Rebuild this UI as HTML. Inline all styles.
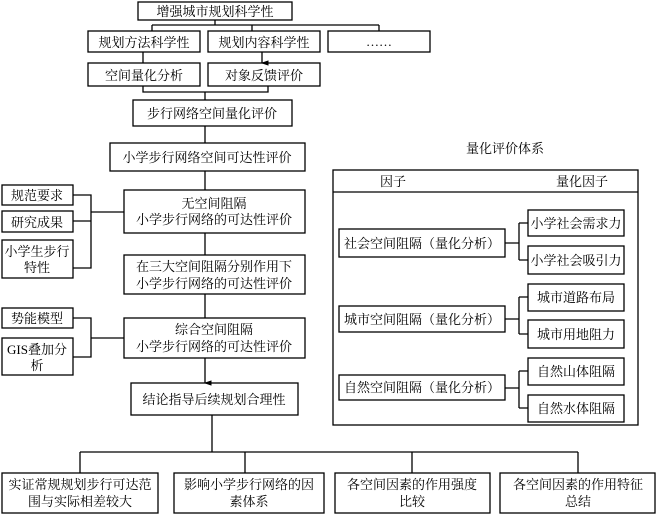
<!DOCTYPE html>
<html><head><meta charset="utf-8"><style>
html,body{margin:0;padding:0;background:#fff}
text{font-family:"Liberation Serif","Noto Serif CJK SC","Noto Sans CJK SC",serif;font-size:13px;fill:#000}
</style></head><body>
<svg width="657" height="515" viewBox="0 0 657 515" xmlns="http://www.w3.org/2000/svg">
<defs><marker id="a" markerWidth="6" markerHeight="6" refX="3" refY="5" orient="auto"><path d="M1,0 L5,0 L3,6 Z" fill="#000"/></marker></defs>
<g fill="none" stroke="#000" stroke-width="1.3">
<rect x="138" y="2" width="154" height="18"/>
<rect x="88" y="31" width="112" height="21"/>
<rect x="208" y="31" width="112" height="21"/>
<rect x="328" y="31" width="102" height="21"/>
<rect x="88" y="63" width="112" height="23"/>
<rect x="208" y="63" width="112" height="23"/>
<rect x="133" y="100" width="159" height="26"/>
<rect x="110" y="143" width="195" height="28"/>
<rect x="124" y="190" width="181" height="43"/>
<rect x="124" y="255" width="181" height="39"/>
<rect x="124" y="318" width="181" height="40"/>
<rect x="131" y="383" width="167" height="32"/>
<rect x="2" y="473" width="156" height="40"/>
<rect x="174" y="473" width="150" height="40"/>
<rect x="335" y="473" width="155" height="40"/>
<rect x="500" y="473" width="155" height="40"/>
<rect x="2" y="185" width="71" height="20"/>
<rect x="2" y="211" width="71" height="21"/>
<rect x="2" y="240" width="71" height="38"/>
<rect x="2" y="308" width="71" height="20"/>
<rect x="2" y="338" width="71" height="37"/>
<rect x="333" y="170" width="305" height="255"/>
<line x1="333" y1="192" x2="638" y2="192"/>
<rect x="339" y="229" width="166" height="28"/>
<rect x="339" y="306" width="166" height="26"/>
<rect x="339" y="375" width="166" height="25"/>
<rect x="528" y="210" width="96" height="26"/>
<rect x="528" y="246" width="96" height="28"/>
<rect x="528" y="284" width="96" height="27"/>
<rect x="528" y="320" width="96" height="28"/>
<rect x="528" y="358" width="96" height="27"/>
<rect x="528" y="395" width="96" height="27"/>
<!-- connectors -->
<path d="M215,20 V25 M152,25 H379 M152,25 V31 M252,25 V31 M379,25 V31"/>
<path d="M143,52 V63 M262,52 V63" marker-end="url(#a)"/>
<path d="M143,86 V92 H268 V86 M205,92 V100"/>
<path d="M205,126 V143"/>
<path d="M205,171 V190 M205,233 V255 M205,294 V318 M205,358 V383" marker-end="url(#a)"/>
<path d="M73,195 H91 V268 H73 M73,221 H91 M91,212 H124"/>
<path d="M73,318 H91 V357 H73 M91,338 H124"/>
<path d="M212,415 V452 M80,452 H578 M80,452 V473 M245,452 V473 M412,452 V473 M578,452 V473"/>
<path d="M505,243 H519 M519,223 V260 M519,223 H528 M519,260 H528"/>
<path d="M505,319 H519 M519,297 V334 M519,297 H528 M519,334 H528"/>
<path d="M505,388 H519 M519,371 V408 M519,371 H528 M519,408 H528"/>
</g>
<g text-anchor="middle">
<text x="215" y="16">增强城市规划科学性</text>
<text x="144" y="47">规划方法科学性</text>
<text x="264" y="47">规划内容科学性</text>
<text x="379" y="46">……</text>
<text x="144" y="80">空间量化分析</text>
<text x="264" y="80">对象反馈评价</text>
<text x="212" y="118">步行网络空间量化评价</text>
<text x="207" y="162">小学步行网络空间可达性评价</text>
<text x="214" y="208">无空间阻隔</text>
<text x="214" y="224">小学步行网络的可达性评价</text>
<text x="214" y="271">在三大空间阻隔分别作用下</text>
<text x="214" y="288">小学步行网络的可达性评价</text>
<text x="214" y="334">综合空间阻隔</text>
<text x="214" y="351">小学步行网络的可达性评价</text>
<text x="214" y="404">结论指导后续规划合理性</text>
<text x="80" y="489">实证常规规划步行可达范</text>
<text x="80" y="506">围与实际相差较大</text>
<text x="249" y="489">影响小学步行网络的因</text>
<text x="249" y="506">素体系</text>
<text x="412" y="489">各空间因素的作用强度</text>
<text x="412" y="506">比较</text>
<text x="578" y="489">各空间因素的作用特征</text>
<text x="578" y="506">总结</text>
<text x="37" y="200">规范要求</text>
<text x="37" y="227">研究成果</text>
<text x="37" y="256">小学生步行</text>
<text x="37" y="272">特性</text>
<text x="37" y="323">势能模型</text>
<text x="37" y="354">GIS叠加分</text>
<text x="37" y="370">析</text>
<text x="505" y="153">量化评价体系</text>
<text x="393" y="186">因子</text>
<text x="582" y="186">量化因子</text>
<text x="422" y="248">社会空间阻隔（量化分析）</text>
<text x="422" y="324">城市空间阻隔（量化分析）</text>
<text x="422" y="392">自然空间阻隔（量化分析）</text>
<text x="576" y="228">小学社会需求力</text>
<text x="576" y="265">小学社会吸引力</text>
<text x="576" y="302">城市道路布局</text>
<text x="576" y="339">城市用地阻力</text>
<text x="576" y="376">自然山体阻隔</text>
<text x="576" y="413">自然水体阻隔</text>
</g>
</svg>
</body></html>
